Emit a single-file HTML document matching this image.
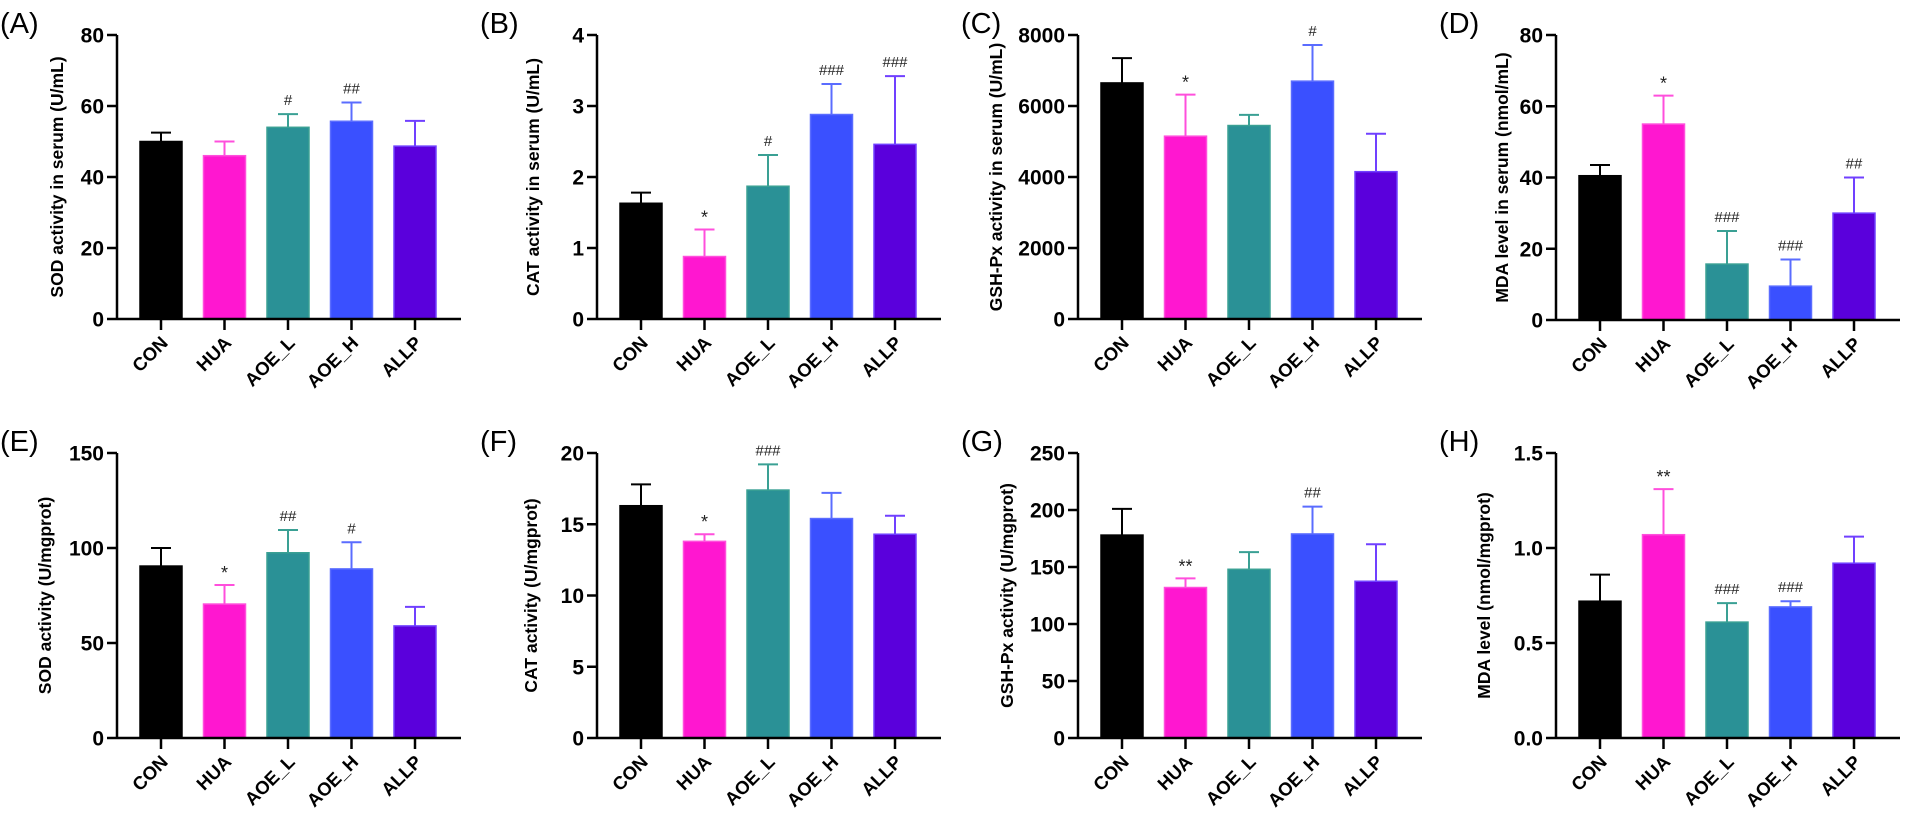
<!DOCTYPE html>
<html><head><meta charset="utf-8"><style>
html,body{margin:0;padding:0;background:#fff}
svg{display:block;font-family:"Liberation Sans",Arial,sans-serif}
</style></head><body>
<svg id="fig" width="1908" height="826" viewBox="0 0 1908 826"></svg>
<script>
const categories = ["CON","HUA","AOE_L","AOE_H","ALLP"];
const valsA = [50,46,54,55.7,48.7];       const errA = [52.5,50,57.7,61,55.8];   const sigA = ["","","#","##",""];
const valsB = [1.63,0.88,1.87,2.88,2.46]; const errB = [1.78,1.26,2.31,3.31,3.42]; const sigB = ["","*","#","###","###"];
const valsC = [6650,5150,5450,6700,4150]; const errC = [7350,6320,5750,7720,5220]; const sigC = ["","*","","#",""];
const valsD = [40.5,55,15.7,9.5,30];      const errD = [43.5,63,25,17,40];        const sigD = ["","*","###","###","##"];
const valsE = [90.5,70.5,97.5,89,59];     const errE = [100,80.5,109.5,103,69];   const sigE = ["","*","##","#",""];
const valsF = [16.3,13.8,17.4,15.4,14.3]; const errF = [17.8,14.3,19.2,17.2,15.6]; const sigF = ["","*","###","",""];
const valsG = [178,132,148,179,137.5];    const errG = [201,140,163,203,170];    const sigG = ["","**","","##",""];
const valsH = [0.72,1.07,0.61,0.69,0.92]; const errH = [0.86,1.31,0.71,0.72,1.06]; const sigH = ["","**","###","###",""];
const ticksA = ["0","20","40","60","80"];
const ticksB = ["0","1","2","3","4"];
const ticksC = ["0","2000","4000","6000","8000"];
const ticksD = ["0","20","40","60","80"];
const ticksE = ["0","50","100","150"];
const ticksF = ["0","5","10","15","20"];
const ticksG = ["0","50","100","150","200","250"];
const ticksH = ["0.0","0.5","1.0","1.5"];

const fills = ["#000000","#ff17d0","#2a9196","#3a50ff","#5a00dc"];
const strokes = ["#000000","#ff4fdc","#3aa094","#5a6cff","#7040ff"];
const NS = "http://www.w3.org/2000/svg";
const svg = document.getElementById("fig");
function mk(tag, attrs, parent){const e=document.createElementNS(NS,tag);for(const k in attrs)e.setAttribute(k,attrs[k]);(parent||svg).appendChild(e);return e;}

const panels = [
 {id:"A",ax:117,top:35,bot:319,to:54,vals:valsA,err:errA,sig:sigA,ticks:ticksA,title:"SOD activity in serum (U/mL)"},
 {id:"B",ax:597,top:35,bot:319,to:58,vals:valsB,err:errB,sig:sigB,ticks:ticksB,title:"CAT activity in serum (U/mL)"},
 {id:"C",ax:1078,top:35,bot:319,to:76,vals:valsC,err:errC,sig:sigC,ticks:ticksC,title:"GSH-Px activity in serum (U/mL)"},
 {id:"D",ax:1556,top:35,bot:320,to:48,vals:valsD,err:errD,sig:sigD,ticks:ticksD,title:"MDA level in serum (nmol/mL)"},
 {id:"E",ax:117,top:453,bot:738,to:66,vals:valsE,err:errE,sig:sigE,ticks:ticksE,title:"SOD activity (U/mgprot)"},
 {id:"F",ax:597,top:453,bot:738,to:60,vals:valsF,err:errF,sig:sigF,ticks:ticksF,title:"CAT activity (U/mgprot)"},
 {id:"G",ax:1078,top:453,bot:738,to:65,vals:valsG,err:errG,sig:sigG,ticks:ticksG,title:"GSH-Px activity (U/mgprot)"},
 {id:"H",ax:1556,top:453,bot:738,to:66,vals:valsH,err:errH,sig:sigH,ticks:ticksH,title:"MDA level (nmol/mgprot)"}
];

panels.forEach(p=>{
  const g = mk("g",{});
  
  
  const ymax = parseFloat(p.ticks[p.ticks.length-1]);
  const y = v => p.bot - (v/ymax)*(p.bot-p.top);
  const x = i => p.ax + 44 + i*63.5;
  const lab = mk("text",{x:p.ax-117,y:p.top-2,"font-size":29},g); lab.textContent="("+p.id+")";
   
  const yt = mk("text",{x:0,y:0,"font-size":17.5,"font-weight":"bold","text-anchor":"middle",transform:`translate(${p.ax-p.to},${(p.top+p.bot)/2}) rotate(-90)`},g);
  yt.textContent=p.title;
   
  p.vals.forEach((v,i)=>{
    const cx=x(i);
    const el=mk("line",{x1:cx,x2:cx,y1:y(v),y2:y(p.err[i]),stroke:strokes[i],"stroke-width":2},g);
     
    mk("line",{x1:cx-10,x2:cx+10,y1:y(p.err[i]),y2:y(p.err[i]),stroke:strokes[i],"stroke-width":2},g);
    const r=mk("rect",{x:cx-21,y:y(v),width:42,height:p.bot-y(v),fill:fills[i],stroke:strokes[i],"stroke-width":1.5},g);
     
    if(p.sig[i]){
      const s=mk("text",{x:cx,y:y(p.err[i])-(p.sig[i].includes("*")?6:9),"font-size":p.sig[i].includes("*")?18:15,"text-anchor":"middle",fill:"#222"},g);
      s.textContent=p.sig[i];
       
    }
    mk("line",{x1:cx,x2:cx,y1:p.bot,y2:p.bot+11,stroke:"#000","stroke-width":2.5},g);
    const t=mk("text",{x:0,y:0,"font-size":18.5,"font-weight":"bold","text-anchor":"end",transform:`translate(${cx+8},${p.bot+25}) rotate(-45)`},g);
    t.textContent=categories[i];
     
  });
  const ya=mk("line",{x1:p.ax,x2:p.ax,y1:p.top,y2:p.bot,stroke:"#000","stroke-width":2.5},g);
   
  const xa=mk("line",{x1:p.ax,x2:p.ax+344,y1:p.bot,y2:p.bot,stroke:"#000","stroke-width":2.5},g);
   
  p.ticks.forEach(tl=>{
    const v=parseFloat(tl), yy=y(v);
    mk("line",{x1:p.ax-10,x2:p.ax,y1:yy,y2:yy,stroke:"#000","stroke-width":2.5},g);
    const t=mk("text",{x:p.ax-13,y:yy+7.5,"font-size":21,"font-weight":"bold","text-anchor":"end"},g);
    t.textContent=tl;
     
  });
});
</script>
</body></html>
